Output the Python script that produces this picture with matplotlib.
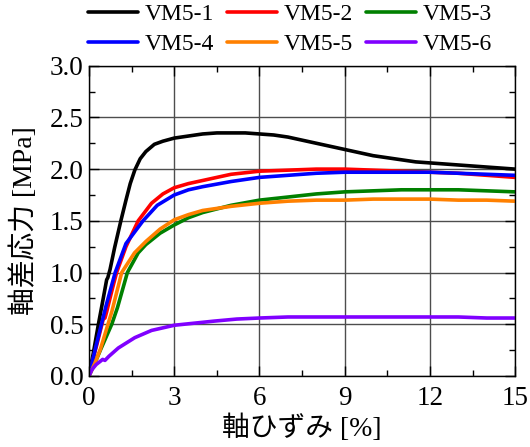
import numpy as np
import matplotlib
matplotlib.use("Agg")
from matplotlib import pyplot as plt
from matplotlib.ticker import MultipleLocator

plt.rcParams['font.family'] = ['Liberation Serif', 'Noto Sans CJK JP']

# 軸ひずみ [%] / 軸差応力 [MPa]
strain_1 = [0, 0.15, 0.33, 0.5, 0.62, 0.66, 0.74, 0.9, 1.12, 1.3, 1.45, 1.61, 1.8, 2.0, 2.3, 2.6, 3.0, 3.5, 4.0, 4.5, 5.0, 5.5,
            6.0, 6.5, 7.0, 7.5, 8.0, 8.5, 9.0, 9.5, 10.0, 10.5, 11.0, 11.5, 12.0, 13.0, 14.0, 15.0]
stress_1 = [0, 0.22, 0.50, 0.75, 0.93, 0.95, 1.03, 1.24, 1.50, 1.70, 1.86, 1.99, 2.10, 2.17, 2.24, 2.27, 2.30, 2.32, 2.34, 2.35, 2.35, 2.35,
            2.34, 2.33, 2.31, 2.28, 2.25, 2.22, 2.19, 2.16, 2.13, 2.11, 2.09, 2.07, 2.06, 2.04, 2.02, 2.00]

strain_2 = [0, 0.15, 0.3, 0.5, 0.56, 0.62, 0.8, 0.97, 1.3, 1.73, 2.2, 2.6, 3.0, 3.5, 4.0, 5.0, 6.0, 7.0, 8.0, 9.0,
            10.0, 11.0, 12.0, 13.0, 14.0, 15.0]
stress_2 = [0, 0.17, 0.33, 0.55, 0.56, 0.62, 0.82, 1.00, 1.25, 1.50, 1.67, 1.76, 1.82, 1.86, 1.89, 1.95, 1.98, 1.99, 2.00, 2.00,
            1.99, 1.98, 1.97, 1.96, 1.94, 1.92]

strain_3 = [0, 0.2, 0.4, 0.8, 1.0, 1.35, 1.73, 2.0, 2.5, 3.0, 3.5, 4.0, 5.0, 6.0, 7.0, 8.0, 9.0, 10.0, 11.0, 12.0, 13.0, 14.0, 15.0]
stress_3 = [0, 0.12, 0.25, 0.50, 0.66, 1.00, 1.19, 1.27, 1.38, 1.46, 1.53, 1.58, 1.65, 1.70, 1.73, 1.76, 1.78, 1.79, 1.80, 1.80, 1.80, 1.79, 1.78]

strain_4 = [0, 0.15, 0.3, 0.6, 0.92, 1.3, 1.9, 2.4, 3.0, 3.5, 4.0, 5.0, 6.0, 7.0, 8.0, 9.0, 10.0, 11.0, 12.0, 13.0, 14.0, 15.0]
stress_4 = [0, 0.18, 0.35, 0.68, 1.00, 1.28, 1.50, 1.65, 1.75, 1.80, 1.83, 1.88, 1.92, 1.94, 1.96, 1.97, 1.97, 1.97, 1.97, 1.96, 1.95, 1.94]

strain_5 = [0, 0.2, 0.39, 0.6, 0.8, 1.15, 1.6, 2.0, 2.5, 3.0, 3.5, 4.0, 5.0, 6.0, 7.0, 8.0, 9.0, 10.0, 11.0, 12.0, 13.0, 14.0, 15.0]
stress_5 = [0, 0.12, 0.25, 0.44, 0.62, 1.00, 1.19, 1.30, 1.42, 1.51, 1.56, 1.60, 1.64, 1.67, 1.69, 1.70, 1.70, 1.71, 1.71, 1.71, 1.70, 1.70, 1.69]

strain_6 = [0, 0.1, 0.25, 0.39, 0.48, 0.56, 0.7, 1.03, 1.61, 2.2, 3.0, 3.7, 4.4, 5.2, 6.0, 7.0, 8.0, 9.0, 10.0, 11.0, 12.0, 13.0, 14.0, 15.0]
stress_6 = [0, 0.06, 0.11, 0.14, 0.16, 0.15, 0.19, 0.27, 0.37, 0.44, 0.49, 0.51, 0.53, 0.55, 0.56, 0.57, 0.57, 0.57, 0.57, 0.57, 0.57, 0.57, 0.56, 0.56]

labels = ['VM5-1', 'VM5-2', 'VM5-3', 'VM5-4', 'VM5-5', 'VM5-6']
colors = ['black', '#ff0000', '#008000', '#0000ff', '#ff8000', '#8000ff']
series = [(strain_1, stress_1), (strain_2, stress_2), (strain_3, stress_3),
          (strain_4, stress_4), (strain_5, stress_5), (strain_6, stress_6)]

fig = plt.figure(figsize=(5.30, 4.47), dpi=100)
ax = fig.add_axes([0.168, 0.159, 0.804, 0.694])

lines = []
for (x, y), lab, c in zip(series, labels, colors):
    l, = ax.plot(x, y, color=c, lw=2.6, label=lab, solid_capstyle='round')
    lines.append(l)

ax.set_xlim(0, 15)
ax.set_ylim(0, 3.0)
ax.xaxis.set_major_locator(MultipleLocator(3))
ax.xaxis.set_minor_locator(MultipleLocator(1.5))
ax.yaxis.set_minor_locator(MultipleLocator(0.25))
ax.set_yticks(np.arange(0, 3.01, 0.5))
ax.set_yticklabels(['{:.1f}'.format(v) for v in np.arange(0, 3.01, 0.5)])

ax.grid(True, which='major', color='0.3', lw=1.0)
ax.tick_params(which='both', direction='in', top=True, right=True, labelsize=19.5, width=1.0)
ax.tick_params(which='major', length=7, pad=4)
ax.tick_params(axis='x', which='major', pad=7)
ax.tick_params(which='minor', length=4)
for s in ax.spines.values():
    s.set_linewidth(1.0)

ax.set_xlabel('軸ひずみ [%]', fontsize=20, labelpad=3)
ax.set_ylabel('軸差応力 [MPa]', fontsize=20, labelpad=8)

# 凡例は行方向に並べる (1行目: 1,2,3 / 2行目: 4,5,6)
order = [0, 3, 1, 4, 2, 5]
fig.legend([lines[i] for i in order], [labels[i] for i in order],
           loc='upper left', bbox_to_anchor=(88 / 530, 0.992), bbox_transform=fig.transFigure,
           ncol=3, frameon=False, fontsize=17, borderpad=0.0, borderaxespad=0.0,
           handlelength=2.1, handletextpad=0.3, columnspacing=0.55, labelspacing=0.36)

plt.savefig('out.png', dpi=100)
plt.close()
